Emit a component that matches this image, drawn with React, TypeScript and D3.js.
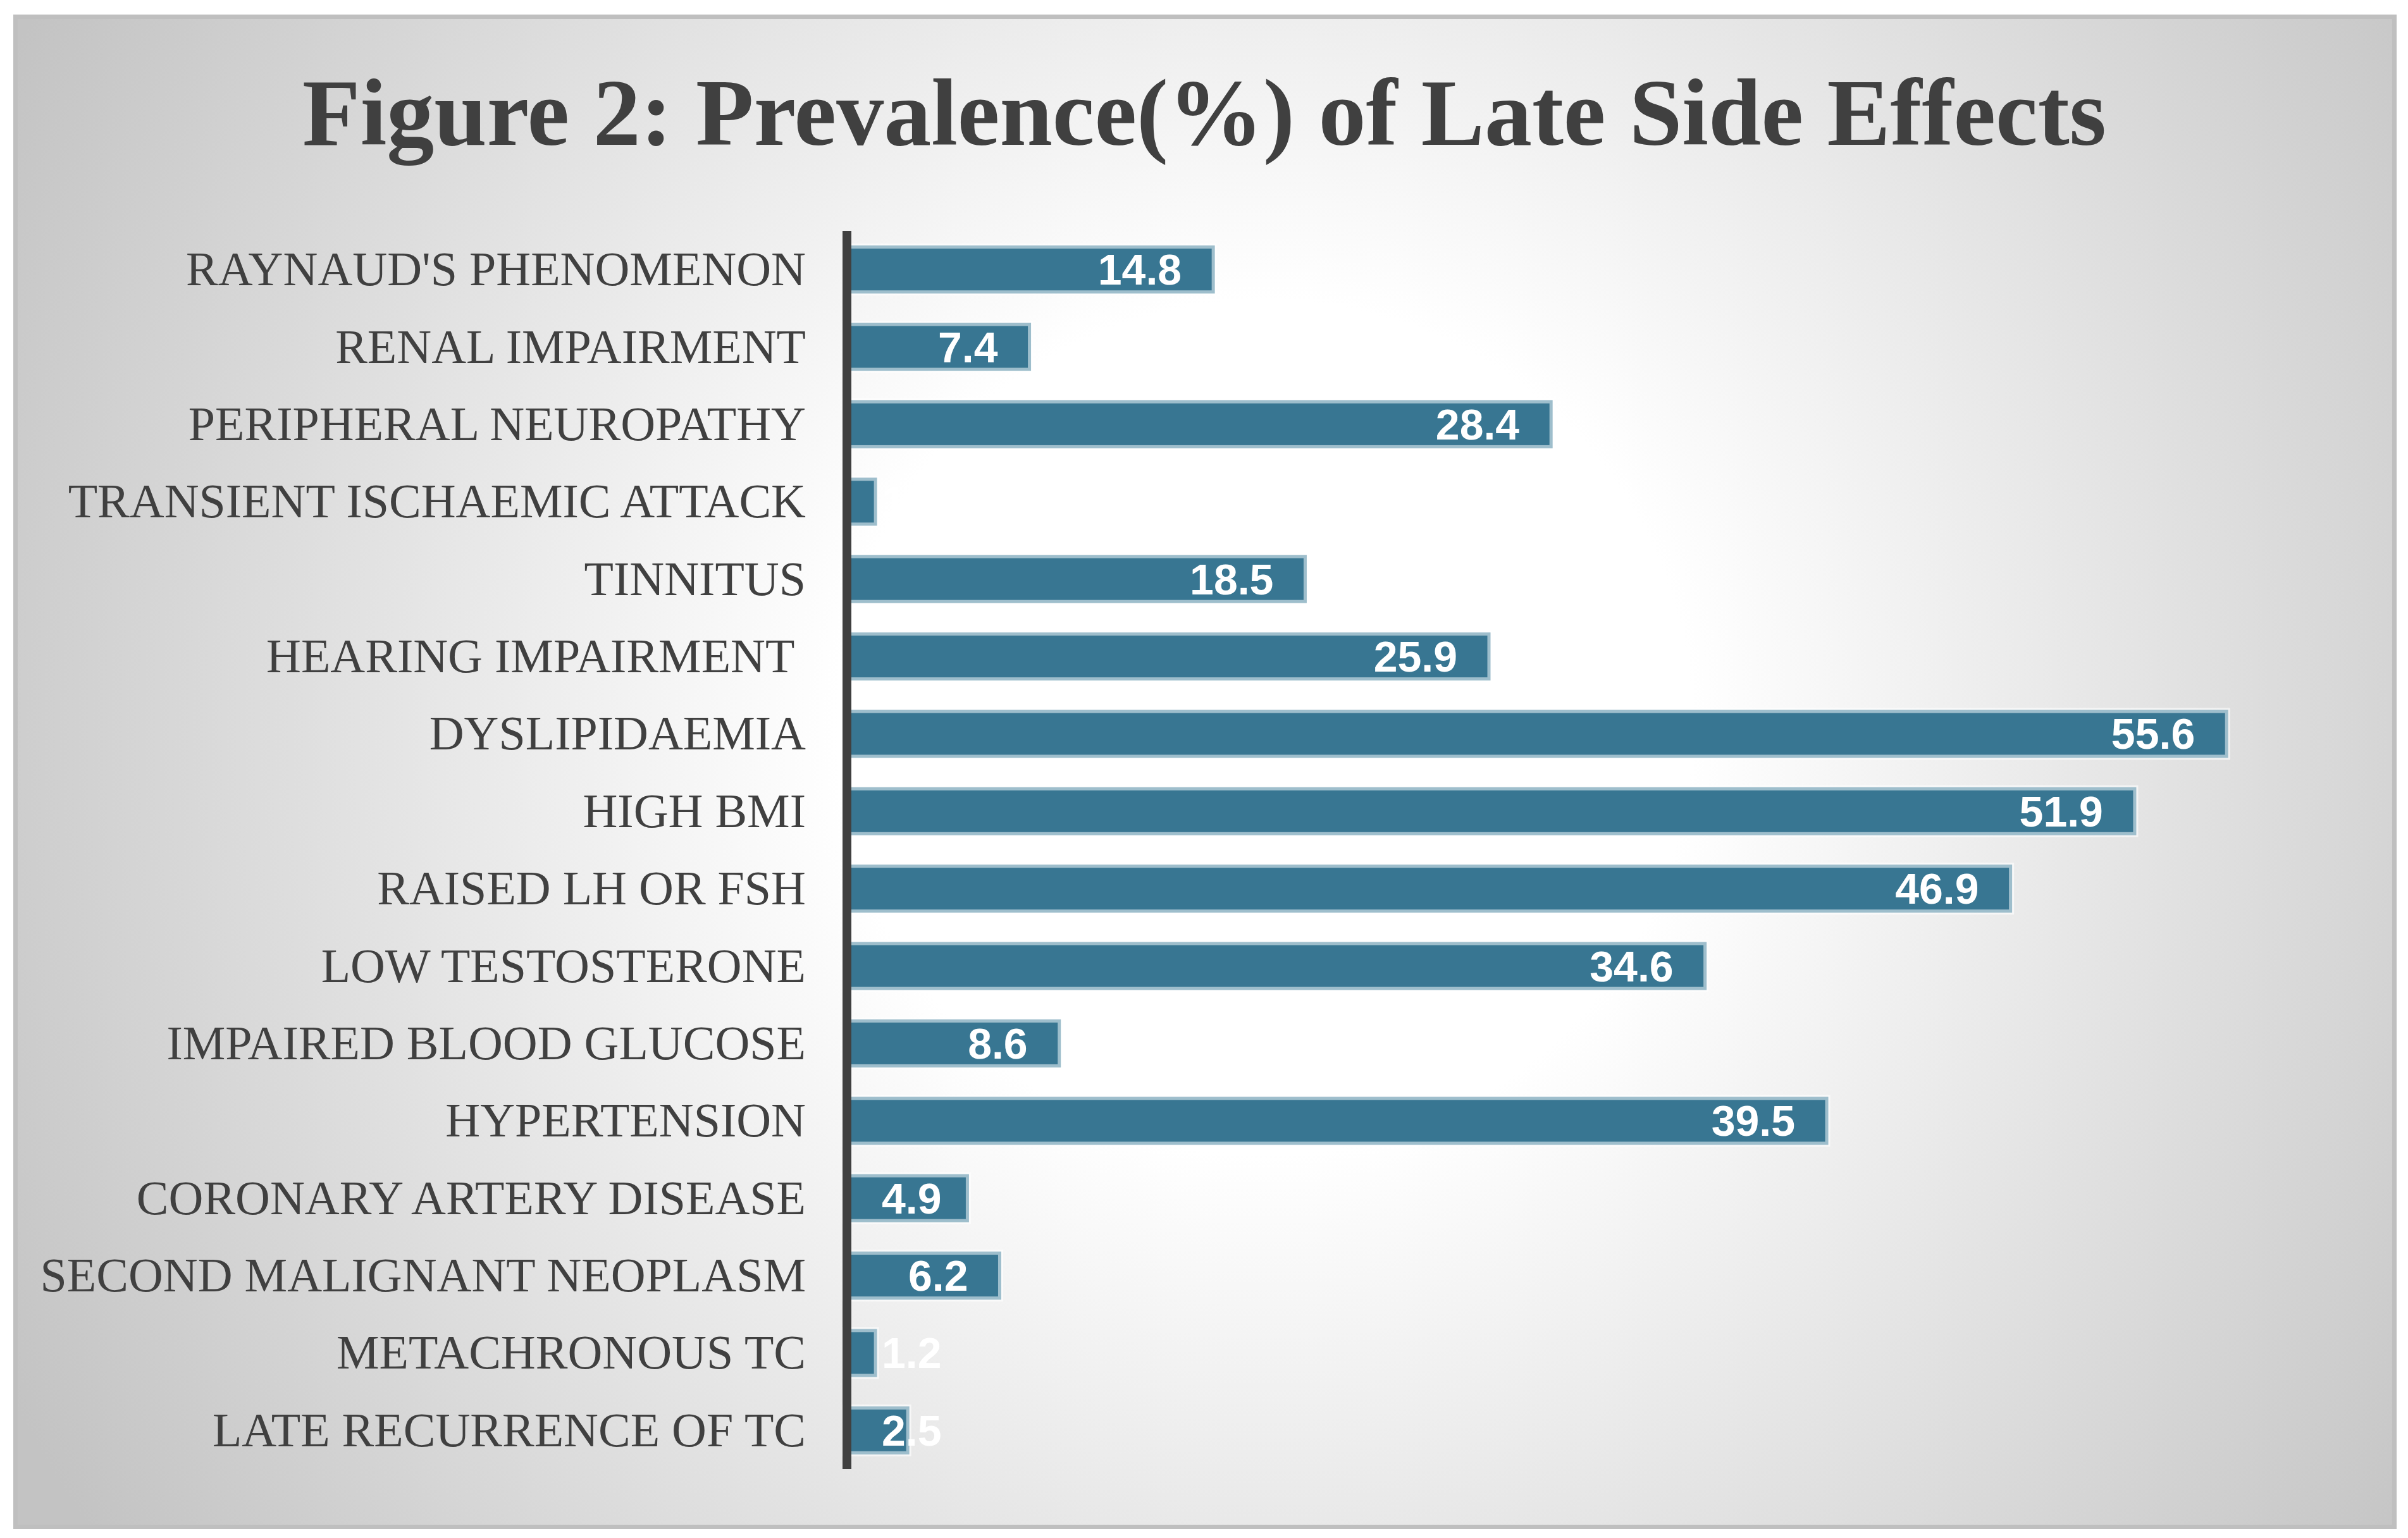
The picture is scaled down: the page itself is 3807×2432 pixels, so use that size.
import React from 'react';
import * as d3 from 'd3';

const W = 3807;
const H = 2432;

const categories = [
  "RAYNAUD'S PHENOMENON",
  'RENAL IMPAIRMENT',
  'PERIPHERAL NEUROPATHY',
  'TRANSIENT ISCHAEMIC ATTACK',
  'TINNITUS',
  'HEARING IMPAIRMENT ',
  'DYSLIPIDAEMIA',
  'HIGH BMI',
  'RAISED LH OR FSH',
  'LOW TESTOSTERONE',
  'IMPAIRED BLOOD GLUCOSE',
  'HYPERTENSION',
  'CORONARY ARTERY DISEASE',
  'SECOND MALIGNANT NEOPLASM',
  'METACHRONOUS TC',
  'LATE RECURRENCE OF TC',
];

const prevalence = [14.8, 7.4, 28.4, 1.2, 18.5, 25.9, 55.6, 51.9, 46.9, 34.6, 8.6, 39.5, 4.9, 6.2, 1.2, 2.5];

const xDomain: [number, number] = [0, 60];

const COLORS = {
  title: '#404040',
  label: '#404040',
  axis: '#404040',
  bar: '#387692',
  barEdge: '#9ebecc',
  frame: '#bfbfbf',
};

const LABEL_FS = 68;

// rough Arial-bold width of a number label
const textWidth = (s: string) =>
  s.split('').reduce((w, ch) => w + (ch === '.' ? 0.278 : 0.556), 0) * LABEL_FS;

export default function App() {
  const x = d3.scaleLinear().domain(xDomain).range([1337, 3693]);
  const y = d3.scaleBand().domain(categories).range([365, 2323]).paddingInner(0.42).paddingOuter(0.21);
  const axisX = 1339;
  const minLabelStart = 1394;

  return (
    <svg
      width={W}
      height={H}
      style={{ position: 'absolute', left: 0, top: 0, display: 'block' }}
    >
      <defs>
        <radialGradient id="bg" gradientUnits="userSpaceOnUse" cx={2000} cy={1150} r={2250}>
          <stop offset="0" stopColor="#ffffff" />
          <stop offset="0.3" stopColor="#ffffff" />
          <stop offset="1" stopColor="#c3c3c3" />
        </radialGradient>
      </defs>
      <rect x={0} y={0} width={W} height={H} fill="#ffffff" />
      <rect x={24.5} y={26.5} width={3761} height={2388} fill="url(#bg)" stroke={COLORS.frame} strokeWidth={7} />

      <text
        x={1904}
        y={229}
        textAnchor="middle"
        fontFamily="'Liberation Serif', 'Times New Roman', serif"
        fontWeight="bold"
        fontSize={150}
        fill={COLORS.title}
      >
        Figure 2: Prevalence(%) of Late Side Effects
      </text>

      <g>
        {categories.map((c, i) => {
          const v = prevalence[i];
          const y0 = y(c) as number;
          const bh = y.bandwidth();
          const x0 = x(0);
          const x1 = x(v);
          return (
            <g key={c}>
              <rect x={x0} y={y0} width={x1 - x0} height={bh} fill="none" stroke="#ffffff" strokeOpacity={0.6} strokeWidth={11} />
              <rect x={x0} y={y0} width={x1 - x0} height={bh} fill={COLORS.bar} stroke={COLORS.barEdge} strokeWidth={5} />
            </g>
          );
        })}
      </g>

      <line x1={axisX} x2={axisX} y1={365} y2={2323} stroke={COLORS.axis} strokeWidth={14} />

      <g fontFamily="'Liberation Serif', 'Times New Roman', serif" fontSize={76} fill={COLORS.label}>
        {categories.map((c) => (
          <text
            key={c}
            x={1274}
            y={(y(c) as number) + y.bandwidth() / 2 + 25}
            textAnchor="end"
            style={{ whiteSpace: 'pre' }}
          >
            {c}
          </text>
        ))}
      </g>

      <g fontFamily="'Liberation Sans', Arial, sans-serif" fontWeight="bold" fontSize={LABEL_FS} fill="#ffffff">
        {categories.map((c, i) => {
          const v = prevalence[i];
          const s = v.toFixed(1);
          const tw = textWidth(s);
          let end = x(v) - 50;
          if (end - tw < minLabelStart) end = minLabelStart + tw;
          return (
            <text key={c} x={end} y={(y(c) as number) + y.bandwidth() / 2 + 24} textAnchor="end">
              {s}
            </text>
          );
        })}
      </g>
    </svg>
  );
}
